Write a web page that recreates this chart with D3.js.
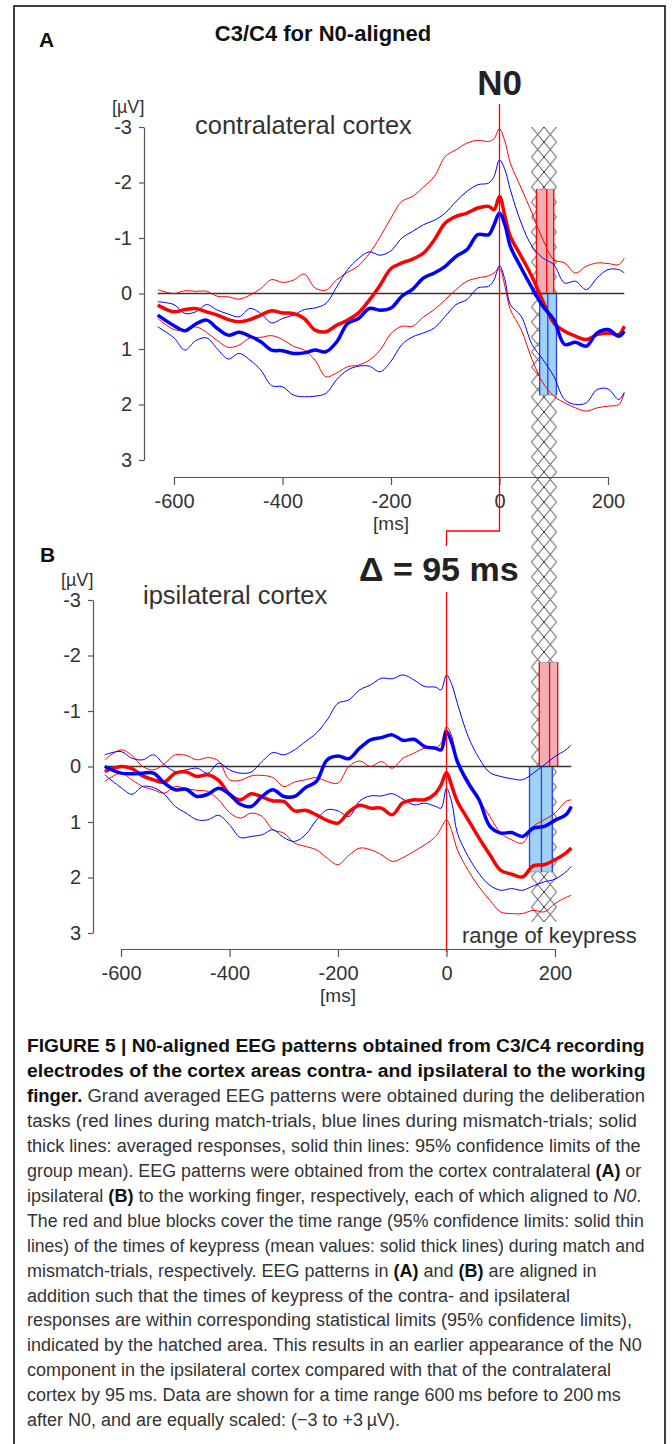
<!DOCTYPE html>
<html><head><meta charset="utf-8">
<script src="https://cdn.jsdelivr.net/npm/d3@7"></script>
<style>body{margin:0;background:#fff}svg{display:block}text{white-space:pre}</style>
</head><body>
<svg id="fig" width="672" height="1444"></svg>
<script>
// ---------- data ----------
const times = [-630,-600,-580,-560,-540,-520,-500,-480,-460,-440,-420,-400,-380,-360,-340,-320,-300,-280,-260,-240,-220,-200,-180,-160,-140,-120,-100,-80,-60,-40,-20,-10,0,10,20,40,60,80,100,120,140,160,180,200,220,230];

// Panel A: contralateral cortex (µV, negative up)
const A_redMean  = [0.21,0.33,0.29,0.27,0.33,0.39,0.47,0.51,0.47,0.39,0.31,0.35,0.36,0.45,0.66,0.69,0.57,0.48,0.35,0.12,-0.15,-0.45,-0.55,-0.62,-0.73,-0.97,-1.27,-1.39,-1.45,-1.54,-1.57,-1.51,-1.75,-1.39,-1.03,-0.67,-0.30,0.14,0.53,0.68,0.77,0.83,0.74,0.71,0.74,0.59];
const A_redUpper = [-0.07,0.0,-0.05,-0.04,-0.04,0.05,0.06,0.10,0.03,-0.09,-0.25,-0.20,-0.24,-0.35,-0.10,-0.06,-0.25,-0.38,-0.50,-0.72,-1.02,-1.36,-1.66,-1.75,-1.92,-2.11,-2.47,-2.59,-2.71,-2.76,-2.74,-2.79,-2.97,-2.74,-2.35,-1.90,-1.45,-0.97,-0.61,-0.55,-0.37,-0.49,-0.55,-0.54,-0.52,-0.64];
const A_redLower = [0.45,0.65,0.66,0.60,0.70,0.85,0.97,0.93,0.80,0.79,0.76,0.83,0.95,1.02,1.20,1.50,1.43,1.32,1.29,1.20,1.02,0.72,0.59,0.59,0.42,0.29,0.11,-0.07,-0.22,-0.28,-0.32,-0.37,-0.45,-0.13,0.29,0.65,1.19,1.61,1.85,1.97,2.06,2.12,2.06,2.03,2.00,1.79];
const A_blueMean  = [0.39,0.58,0.67,0.55,0.48,0.63,0.75,0.70,0.77,0.87,1.02,1.03,1.08,1.07,1.02,1.05,0.87,0.54,0.45,0.27,0.30,0.26,0.05,-0.08,-0.28,-0.37,-0.49,-0.67,-0.79,-1.06,-1.06,-1.24,-1.45,-1.24,-0.85,-0.46,-0.10,0.23,0.47,0.92,0.88,0.95,0.71,0.65,0.77,0.68];
const A_blueUpper = [0.15,0.20,0.36,0.33,0.20,0.30,0.37,0.42,0.27,0.36,0.53,0.45,0.39,0.29,0.26,0.18,-0.12,-0.43,-0.63,-0.75,-0.69,-0.77,-1.00,-1.12,-1.24,-1.32,-1.45,-1.66,-1.84,-1.96,-1.99,-2.11,-2.41,-2.23,-1.87,-1.27,-0.85,-0.64,-0.52,-0.19,-0.22,-0.07,-0.28,-0.43,-0.43,-0.37];
const A_blueLower = [0.60,0.80,1.02,0.85,0.80,1.00,1.18,1.08,1.20,1.38,1.66,1.68,1.83,1.86,1.85,1.80,1.55,1.38,1.31,1.31,1.41,1.22,0.92,0.78,0.71,0.62,0.41,0.20,0.11,-0.10,-0.13,-0.25,-0.50,-0.25,0.20,0.41,0.92,1.19,1.49,1.91,2.00,1.97,1.73,1.72,1.91,1.78];

// Panel B: ipsilateral cortex
const B_redMean  = [0.09,0.00,0.04,0.17,0.24,0.28,0.12,0.10,0.18,0.15,0.25,0.50,0.60,0.49,0.55,0.62,0.63,0.80,0.79,0.87,0.97,1.02,0.82,0.70,0.75,0.75,0.87,0.65,0.60,0.60,0.48,0.33,0.11,0.36,0.63,0.96,1.29,1.59,1.87,1.94,1.99,1.79,1.77,1.68,1.56,1.47];
const B_redUpper = [-0.12,-0.30,-0.20,0.00,0.06,-0.05,-0.21,-0.20,-0.12,-0.16,-0.10,0.24,0.25,0.17,0.16,0.20,0.36,0.28,0.24,0.20,0.27,0.30,0.00,-0.10,0.00,-0.09,0.03,-0.15,-0.24,-0.33,-0.33,-0.42,-0.72,-0.54,-0.09,0.24,0.60,0.90,1.20,1.32,1.38,1.08,0.96,0.84,0.63,0.60];
const B_redLower = [0.27,0.12,0.24,0.36,0.42,0.48,0.36,0.40,0.43,0.45,0.60,0.83,0.93,0.84,0.90,1.14,1.20,1.38,1.44,1.50,1.65,1.77,1.60,1.47,1.50,1.59,1.71,1.64,1.53,1.41,1.26,1.11,0.96,1.17,1.50,1.87,2.17,2.41,2.62,2.65,2.65,2.59,2.62,2.47,2.36,2.32];
const B_blueMean  = [0.00,0.12,0.13,0.12,0.12,0.30,0.42,0.41,0.54,0.50,0.39,0.50,0.68,0.72,0.54,0.42,0.54,0.54,0.38,0.27,-0.12,-0.19,-0.14,-0.33,-0.48,-0.52,-0.57,-0.47,-0.49,-0.36,-0.33,-0.30,-0.63,-0.42,-0.09,0.30,0.60,1.08,1.20,1.19,1.26,1.11,1.08,0.97,0.87,0.72];
const B_blueUpper = [-0.21,-0.27,-0.15,-0.12,-0.21,-0.03,0.09,0.06,0.03,0.12,-0.06,0.06,0.12,0.10,-0.09,-0.25,-0.21,-0.30,-0.45,-0.60,-0.84,-1.14,-1.20,-1.38,-1.47,-1.59,-1.58,-1.65,-1.56,-1.44,-1.43,-1.38,-1.65,-1.47,-1.14,-0.54,-0.15,0.11,0.18,0.22,0.24,0.12,-0.03,-0.18,-0.30,-0.39];
const B_blueLower = [0.15,0.38,0.50,0.36,0.38,0.50,0.72,0.84,0.96,0.96,0.88,1.05,1.28,1.26,1.23,1.14,1.28,1.35,1.23,0.97,0.78,0.80,0.90,0.62,0.53,0.53,0.49,0.59,0.69,0.66,0.72,0.75,0.39,0.66,1.20,1.62,1.93,2.14,2.23,2.20,2.23,2.15,2.08,2.03,1.90,1.80];

// keypress blocks: [lower 95% limit, mean, upper 95% limit] in ms, and block extent in µV
const A_keyRed  = [68, 87, 100];
const A_keyBlue = [74, 89, 105];
const B_keyRed  = [171, 190, 205];
const B_keyBlue = [153, 175, 195];
const A_keyHeights = [-1.88, 1.83];
const B_keyHeights = [-1.88, 1.90];
const hatchTimesA = [59, 105];   // hatched keypress range, in panel-A time

const xTicks = [-600, -400, -200, 0, 200];
const yTicks = [-3, -2, -1, 0, 1, 2, 3];

// ---------- drawing ----------
const svg = d3.select("#fig");
const FONT = "'Liberation Sans', Arial, Helvetica, sans-serif";
svg.append("rect").attr("width",672).attr("height",1444).attr("fill","#fff");
svg.append("rect").attr("x",14).attr("y",6).attr("width",651).attr("height",1470)
  .attr("fill","none").attr("stroke","#000").attr("stroke-width",1.5);

const xA = d3.scaleLinear().domain([-600,200]).range([174,608]);
const yA = d3.scaleLinear().domain([-3,3]).range([127,460]);
const xB = d3.scaleLinear().domain([-600,200]).range([121,555]);
const yB = d3.scaleLinear().domain([-3,3]).range([600,933]);

// hatch pattern
const defs = svg.append("defs");
const hx0 = xA(hatchTimesA[0]), hx1 = xA(hatchTimesA[1]);
const pw = (hx1-hx0)/2;
const pat = defs.append("pattern").attr("id","hatch").attr("patternUnits","userSpaceOnUse")
  .attr("width",pw).attr("height",30).attr("x",hx0).attr("y",yA(-3));
pat.append("path").attr("d",`M0,0 L${pw},15 L0,30 M${pw},0 L0,15 L${pw},30`)
  .attr("fill","none").attr("stroke","#222").attr("stroke-width",0.9);
svg.append("rect").attr("x",hx0).attr("y",yA(-3)).attr("width",hx1-hx0)
  .attr("height",yB(2.8)-yA(-3)).attr("fill","url(#hatch)");

function panel(cfg){
  const {x,y,axisX,axisY,d,keyRed,keyBlue,keyH} = cfg;
  const g = svg.append("g");
  const blocks = [
    {k:keyRed, v:keyH[0], fill:"#f3aeb3", stroke:"#ff0000"},
    {k:keyBlue, v:keyH[1], fill:"#9fd3f4", stroke:"#2a3cff"}
  ];
  blocks.forEach(b=>{
    const x0=x(b.k[0]), x1=x(b.k[2]);
    const y0=y(Math.min(0,b.v)), y1=y(Math.max(0,b.v));
    g.append("rect").attr("x",x0).attr("y",y0).attr("width",x1-x0).attr("height",y1-y0)
      .attr("fill",b.fill).attr("stroke","#888").attr("stroke-width",0.6);
    b.k.forEach(t=>g.append("line").attr("x1",x(t)).attr("x2",x(t)).attr("y1",y0).attr("y2",y1)
      .attr("stroke",b.stroke).attr("stroke-width",1.3));
  });
  g.append("line").attr("x1",x(times[0])).attr("x2",x(times[times.length-1]))
    .attr("y1",y(0)).attr("y2",y(0)).attr("stroke","#333").attr("stroke-width",1.3);
  const line = d3.line().x((v,i)=>x(times[i])).y(v=>y(v)).curve(d3.curveCatmullRom.alpha(0.5));
  const series = [
    [d.redUpper,"#ff0000",1],[d.redLower,"#ff0000",1],
    [d.blueUpper,"#0000ff",1],[d.blueLower,"#0000ff",1],
    [d.redMean,"#ff0000",3.5],[d.blueMean,"#0000ff",3.5]
  ];
  series.forEach(([arr,c,w])=>g.append("path").attr("d",line(arr)).attr("fill","none")
    .attr("stroke",c).attr("stroke-width",w).attr("stroke-linejoin","round"));
  const ya = g.append("g").attr("transform",`translate(${axisX},0)`)
    .call(d3.axisLeft(y).tickValues(yTicks).tickFormat(v=>String(v)).tickSize(5).tickSizeOuter(0).tickPadding(7));
  const xa = g.append("g").attr("transform",`translate(0,${axisY})`)
    .call(d3.axisBottom(x).tickValues(xTicks).tickFormat(v=>String(v)).tickSize(8).tickSizeOuter(0).tickPadding(9));
  [ya,xa].forEach(a=>{
    a.selectAll("path,line").attr("stroke","#555").attr("stroke-width",1.2);
    a.selectAll("text").attr("font-family",FONT).attr("font-size",20).attr("fill","#333");
  });
  g.append("text").attr("x",x(-200)).attr("y",axisY+53).attr("text-anchor","middle")
    .attr("font-family",FONT).attr("font-size",19).attr("fill","#333").text("[ms]");
  g.append("text").attr("x",axisX-32).attr("y",y(-3)-14).attr("font-family",FONT)
    .attr("font-size",18).attr("fill","#333").text("[µV]");
}

panel({x:xA,y:yA,axisX:144,axisY:477,keyRed:A_keyRed,keyBlue:A_keyBlue,keyH:A_keyHeights,
  d:{redMean:A_redMean,redUpper:A_redUpper,redLower:A_redLower,blueMean:A_blueMean,blueUpper:A_blueUpper,blueLower:A_blueLower}});
panel({x:xB,y:yB,axisX:93,axisY:949,keyRed:B_keyRed,keyBlue:B_keyBlue,keyH:B_keyHeights,
  d:{redMean:B_redMean,redUpper:B_redUpper,redLower:B_redLower,blueMean:B_blueMean,blueUpper:B_blueUpper,blueLower:B_blueLower}});

const txt = (x,y,s,size,opts={})=>svg.append("text").attr("x",x).attr("y",y)
  .attr("font-family",FONT).attr("font-size",size).attr("fill",opts.fill||"#333")
  .attr("font-weight",opts.bold?"bold":"normal").attr("text-anchor",opts.anchor||"start").text(s);
txt(39,47,"A",21,{bold:true,fill:"#111"});
txt(40,562,"B",21,{bold:true,fill:"#111"});
txt(323,41,"C3/C4 for N0-aligned",22,{bold:true,fill:"#111",anchor:"middle"});
txt(195,134,"contralateral cortex",25.5);
txt(143,604,"ipsilateral cortex",25.5);
txt(xA(0),95,"N0",35,{bold:true,fill:"#222",anchor:"middle"});

svg.append("path").attr("d",`M${xA(0)},104 V531 H${xB(0)} V952`)
  .attr("fill","none").attr("stroke","#ff0000").attr("stroke-width",1.3);
svg.append("rect").attr("x",355).attr("y",546).attr("width",164).attr("height",46).attr("fill","#fff");
txt(359,581,"\u0394 = 95 ms",34,{bold:true,fill:"#222"});
svg.append("rect").attr("x",458).attr("y",924).attr("width",186).attr("height",23).attr("fill","#fff");
txt(462,943,"range of keypress",22);

// ---------- caption ----------
const captionLines = [
 [["FIGURE 5 | N0-aligned EEG patterns obtained from C3/C4 recording","b"]],
 [["electrodes of the cortex areas contra- and ipsilateral to the working","b"]],
 [["finger.","b"],[" Grand averaged EEG patterns were obtained during the deliberation","n"]],
 [["tasks (red lines during match-trials, blue lines during mismatch-trials; solid","n"]],
 [["thick lines: averaged responses, solid thin lines: 95% confidence limits of the","n"]],
 [["group mean). EEG patterns were obtained from the cortex contralateral ","n"],["(A)","b"],[" or","n"]],
 [["ipsilateral ","n"],["(B)","b"],[" to the working finger, respectively, each of which aligned to ","n"],["N0","i"],[".","n"]],
 [["The red and blue blocks cover the time range (95% confidence limits: solid thin","n"]],
 [["lines) of the times of keypress (mean values: solid thick lines) during match and","n"]],
 [["mismatch-trials, respectively. EEG patterns in ","n"],["(A)","b"],[" and ","n"],["(B)","b"],[" are aligned in","n"]],
 [["addition such that the times of keypress of the contra- and ipsilateral","n"]],
 [["responses are within corresponding statistical limits (95% confidence limits),","n"]],
 [["indicated by the hatched area. This results in an earlier appearance of the N0","n"]],
 [["component in the ipsilateral cortex compared with that of the contralateral","n"]],
 [["cortex by 95\u2009ms. Data are shown for a time range 600\u2009ms before to 200\u2009ms","n"]],
 [["after N0, and are equally scaled: (\u22123 to +3\u2009\u00b5V).","n"]]
];
const fullLineEnds = [645,646,645,637,641,642,642,644,645];
const capX = 27, capY0 = 1052, capDY = 24.95;
const CAPFONT = "'Liberation Sans Narrow','Liberation Sans',Arial,sans-serif";
const capNodes = captionLines.map((segs,i)=>{
  const t = svg.append("text").attr("font-family",CAPFONT).attr("font-size",19)
    .attr("transform",`translate(${capX},${capY0+i*capDY})`);
  segs.forEach(([s,st])=>{
    t.append("tspan").text(s)
      .attr("font-weight",st==="b"?"bold":"normal")
      .attr("font-style",st==="i"?"italic":"normal")
      .attr("fill",st==="b"?"#111":"#333");
  });
  return t;
});
const scales = capNodes.map((t,i)=>{
  const w = t.node().getComputedTextLength();
  return i<fullLineEnds.length ? (fullLineEnds[i]-capX)/w : null;
});
const normal = scales.slice(3,9).sort((a,b)=>a-b);
const kMed = (normal[2]+normal[3])/2;
capNodes.forEach((t,i)=>{
  const k = scales[i]!==null ? scales[i] : kMed;
  t.attr("transform",`translate(${capX},${capY0+i*capDY}) scale(${k},1)`);
});
</script>
</body></html>
